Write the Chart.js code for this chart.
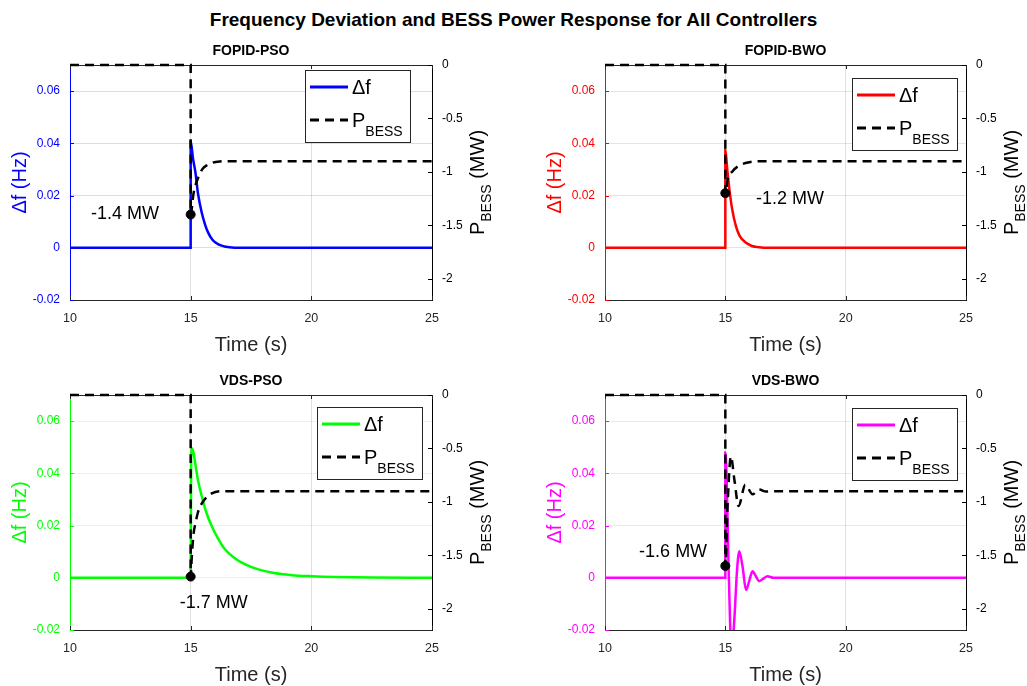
<!DOCTYPE html>
<html>
<head>
<meta charset="utf-8">
<script src="https://cdn.jsdelivr.net/npm/chart.js@4.4.1/dist/chart.umd.min.js"></script>
<style>
  html, body { margin: 0; padding: 0; background: #fff; overflow: hidden; }
  body { width: 1027px; height: 686px; position: relative; font-family: 'Liberation Sans', Arial, Helvetica, sans-serif; }
  #title { position: absolute; left: 0; top: 10px; width: 1027px; text-align: center; font-weight: bold; font-size: 19px; line-height: 19px; color: #000; }
  canvas { position: absolute; }
</style>
</head>
<body>
<div id="title">Frequency Deviation and BESS Power Response for All Controllers</div>
<canvas id="c1" width="513" height="340" style="left:0;top:30px"></canvas>
<canvas id="c2" width="492" height="340" style="left:535px;top:30px"></canvas>
<canvas id="c3" width="513" height="340" style="left:0;top:360px"></canvas>
<canvas id="c4" width="492" height="340" style="left:535px;top:360px"></canvas>
<script>
const FONT = "'Liberation Sans', Arial, Helvetica, sans-serif";

// axis ticks
const timeTicks = [10, 15, 20, 25];
const dfTicks   = [-0.02, 0, 0.02, 0.04, 0.06];
const pTicks    = [-2, -1.5, -1, -0.5, 0];

// FOPID-PSO
const fopidPsoT   = [10, 15, 15, 15.1, 15.2, 15.3, 15.46, 15.6, 15.73, 15.9, 16.15, 16.4, 16.7, 17, 25];
const fopidPsoDf  = [0, 0, 0.0408, 0.034, 0.0287, 0.021, 0.0134, 0.0088, 0.0057, 0.0031, 0.0013, 0.0005, 0.0001, 0, 0];
const fopidPsoPT  = [10, 15, 15, 15.12, 15.32, 15.5, 15.66, 15.9, 16.2, 16.6, 25];
const fopidPsoP   = [0, 0, -1.4, -1.2, -1.05, -0.97, -0.94, -0.915, -0.903, -0.9, -0.9];

// FOPID-BWO
const fopidBwoT   = [10, 15, 15, 15.08, 15.17, 15.28, 15.44, 15.6, 15.86, 16.1, 16.4, 16.8, 25];
const fopidBwoDf  = [0, 0, 0.0376, 0.03, 0.0223, 0.015, 0.0083, 0.0045, 0.0019, 0.0007, 0.0002, 0, 0];
const fopidBwoPT  = [10, 15, 15, 15.1, 15.3, 15.58, 16.0, 16.55, 25];
const fopidBwoP   = [0, 0, -1.2, -1.07, -0.994, -0.941, -0.91, -0.9, -0.9];

// VDS-PSO
const vdsPsoT     = [10, 15, 15.02, 15.06, 15.12, 15.2, 15.3, 15.46, 15.65, 15.875, 16.1, 16.43, 16.8, 17.26, 17.8, 18.4, 19.2, 20, 21, 22.5, 25];
const vdsPsoDf    = [0, 0, 0.046, 0.0495, 0.0478, 0.0432, 0.0375, 0.0312, 0.025, 0.0197, 0.0156, 0.0108, 0.0077, 0.0051, 0.0032, 0.0019, 0.001, 0.0006, 0.0003, 0.0001, 0];
const vdsPsoPT    = [10, 15, 15, 15.05, 15.12, 15.2, 15.3, 15.46, 15.65, 15.875, 16.3, 17, 25];
const vdsPsoP     = [0, 0, -1.7, -1.5, -1.3, -1.2, -1.1, -1.016, -0.96, -0.92, -0.9, -0.9, -0.9];

// VDS-BWO
const vdsBwoT     = [10, 15, 15, 15.05, 15.12, 15.2, 15.28, 15.38, 15.48, 15.58, 15.72, 15.86, 16.0, 16.13, 16.27, 16.4, 16.58, 16.75, 17.0, 17.3, 25];
const vdsBwoDf    = [0, 0, 0.048, 0.04, 0.01, -0.018, -0.026, -0.015, 0.002, 0.0102, 0.004, -0.0047, -0.001, 0.0025, 0.0006, -0.0013, -0.0003, 0.0006, 0, 0, 0];
const vdsBwoPT    = [10, 15, 15, 15.1, 15.23, 15.38, 15.55, 15.83, 16.13, 16.41, 16.69, 17, 25];
const vdsBwoP     = [0, 0, -1.6, -1.0, -0.575, -0.8, -1.04, -0.84, -0.93, -0.885, -0.904, -0.9, -0.9];

// layout per panel (note = label position in data units, legend = offset from plot right/top)
const panels = [
  { id: 'c1', name: 'FOPID-PSO', color: '#0000ff', grid: 'rgba(0,0,255,0.15)', t: fopidPsoT, df: fopidPsoDf, pt: fopidPsoPT, p: fopidPsoP, rightW: 81, note: [12.28, -1.395], legend: [127, 5] },
  { id: 'c2', name: 'FOPID-BWO', color: '#ff0000', grid: 'rgba(255,0,0,0.15)', t: fopidBwoT, df: fopidBwoDf, pt: fopidBwoPT, p: fopidBwoP, rightW: 61, note: [17.69, -1.255], legend: [114, 13] },
  { id: 'c3', name: 'VDS-PSO',   color: '#00ff00', grid: 'rgba(0,255,0,0.15)', t: vdsPsoT,   df: vdsPsoDf,   pt: vdsPsoPT,   p: vdsPsoP,   rightW: 81, note: [15.96, -1.95], legend: [115, 12] },
  { id: 'c4', name: 'VDS-BWO',   color: '#ff00ff', grid: 'rgba(255,0,255,0.15)', t: vdsBwoT, df: vdsBwoDf,   pt: vdsBwoPT,   p: vdsBwoP,   rightW: 61, note: [12.83, -1.467], legend: [114, 13] }
];

Chart.defaults.font.family = FONT;

function seg(ctx, x1, y1, x2, y2) {
  ctx.beginPath(); ctx.moveTo(x1, y1); ctx.lineTo(x2, y2); ctx.stroke();
}

// top box line + inward tick marks, matlab style
function drawFrame(chart, pn) {
  const ctx = chart.ctx, a = chart.chartArea, L = 4;
  const { x, yL, yR } = chart.scales;
  ctx.save();
  ctx.lineWidth = 1;
  ctx.strokeStyle = '#262626';
  seg(ctx, a.left, a.top + 0.5, a.right, a.top + 0.5);
  timeTicks.forEach(v => {
    const px = Math.round(x.getPixelForValue(v)) + 0.5;
    seg(ctx, px, a.bottom, px, a.bottom - L);
    seg(ctx, px, a.top, px, a.top + L);
  });
  ctx.strokeStyle = pn.color;
  dfTicks.forEach(v => {
    const py = Math.round(yL.getPixelForValue(v)) + 0.5;
    seg(ctx, a.left, py, a.left + L, py);
  });
  ctx.strokeStyle = '#000';
  pTicks.forEach(v => {
    const py = Math.round(yR.getPixelForValue(v)) + 0.5;
    seg(ctx, a.right - L, py, a.right, py);
  });
  ctx.restore();
}

function drawRightLabel(chart) {
  const ctx = chart.ctx, a = chart.chartArea;
  const big = `20px ${FONT}`, small = `14px ${FONT}`;
  ctx.save();
  ctx.font = big;
  const wP = ctx.measureText('P').width;
  const wMW = ctx.measureText(' (MW)').width;
  ctx.font = small;
  const wB = ctx.measureText('BESS').width;
  const total = wP + wB + wMW;
  ctx.translate(a.right + 52, (a.top + a.bottom) / 2);
  ctx.rotate(-Math.PI / 2);
  ctx.fillStyle = '#000';
  ctx.textAlign = 'left';
  ctx.textBaseline = 'alphabetic';
  let tx = -total / 2;
  ctx.font = big;   ctx.fillText('P', tx, 0); tx += wP;
  ctx.font = small; ctx.fillText('BESS', tx, 7); tx += wB;
  ctx.font = big;   ctx.fillText(' (MW)', tx, 0);
  ctx.restore();
}

function drawNote(chart, pn) {
  const ctx = chart.ctx;
  const minP = Math.min(...pn.p);
  ctx.save();
  ctx.font = `18px ${FONT}`;
  ctx.fillStyle = '#000';
  ctx.textAlign = 'center';
  ctx.textBaseline = 'middle';
  ctx.fillText(`${minP.toFixed(1)} MW`, chart.scales.x.getPixelForValue(pn.note[0]), chart.scales.yR.getPixelForValue(pn.note[1]));
  ctx.restore();
}

function drawLegend(chart, pn) {
  const ctx = chart.ctx, a = chart.chartArea;
  const bx = Math.round(a.right - pn.legend[0]), by = Math.round(a.top + pn.legend[1]);
  const bw = 105, bh = 72;
  ctx.save();
  ctx.fillStyle = '#fff';
  ctx.fillRect(bx, by, bw, bh);
  ctx.strokeStyle = '#262626';
  ctx.lineWidth = 1;
  ctx.strokeRect(bx + 0.5, by + 0.5, bw, bh);

  ctx.lineWidth = 3;
  ctx.strokeStyle = pn.color;
  seg(ctx, bx + 5, by + 17, bx + 43, by + 17);
  ctx.fillStyle = '#000';
  ctx.textAlign = 'left';
  ctx.textBaseline = 'alphabetic';
  ctx.font = `20px ${FONT}`;
  ctx.fillText('Δf', bx + 47, by + 24);

  ctx.strokeStyle = '#000';
  ctx.setLineDash([9, 6]);
  seg(ctx, bx + 5, by + 50, bx + 43, by + 50);
  ctx.setLineDash([]);
  ctx.fillText('P', bx + 47, by + 57);
  const wP = ctx.measureText('P').width;
  ctx.font = `14px ${FONT}`;
  ctx.fillText('BESS', bx + 47 + wP, by + 66);
  ctx.restore();
}

function buildChart(pn) {
  const minP = Math.min(...pn.p);
  const minIdx = pn.p.indexOf(minP);
  const dfData = pn.t.map((x, i) => ({ x, y: pn.df[i] }));
  const pData = pn.pt.map((x, i) => ({ x, y: pn.p[i] }));
  const dot = [{ x: pn.pt[minIdx], y: minP }];

  const decor = {
    id: 'decor',
    beforeDatasetsDraw(chart) { drawFrame(chart, pn); },
    afterDatasetsDraw(chart) { drawNote(chart, pn); },
    afterDraw(chart) { drawRightLabel(chart); drawLegend(chart, pn); }
  };

  return new Chart(document.getElementById(pn.id), {
    type: 'line',
    data: {
      datasets: [
        { label: 'Δf', data: dfData, yAxisID: 'yL', borderColor: pn.color, borderWidth: 2.5, pointRadius: 0, cubicInterpolationMode: 'monotone', fill: false, order: 2 },
        { label: 'P_BESS', data: pData, yAxisID: 'yR', borderColor: '#000', borderWidth: 2.5, borderDash: [9, 6], pointRadius: 0, cubicInterpolationMode: 'monotone', fill: false, order: 1, clip: { left: 0, right: 0, top: 3, bottom: 0 } },
        { label: 'min', data: dot, yAxisID: 'yR', showLine: false, pointRadius: 4.5, pointBackgroundColor: '#000', pointBorderColor: '#000', order: 0 }
      ]
    },
    options: {
      responsive: false,
      animation: false,
      events: [],
      layout: { autoPadding: false, padding: 0 },
      scales: {
        x: {
          type: 'linear', position: 'bottom', min: 10, max: 25,
          afterBuildTicks: s => { s.ticks = timeTicks.map(v => ({ value: v })); },
          afterFit: s => { s.height = 70; },
          grid: { color: 'rgba(38,38,38,0.15)', drawTicks: false },
          border: { color: '#262626', width: 1 },
          ticks: { color: '#262626', font: { size: 12.5 }, padding: 11, maxRotation: 0, callback: v => String(v) },
          title: { display: true, text: 'Time (s)', color: '#262626', font: { size: 20 }, padding: { top: 0, bottom: 13 } }
        },
        yL: {
          type: 'linear', position: 'left', min: -0.02, max: 0.07,
          afterBuildTicks: s => { s.ticks = dfTicks.map(v => ({ value: v })); },
          afterFit: s => { s.width = 70; },
          grid: { color: pn.grid, drawTicks: false },
          border: { color: pn.color, width: 1 },
          ticks: { color: pn.color, font: { size: 12 }, padding: 10, callback: v => String(v) },
          title: { display: true, text: 'Δf (Hz)', color: pn.color, font: { size: 20 }, padding: { top: 8, bottom: 0 } }
        },
        yR: {
          type: 'linear', position: 'right', min: -2.2, max: 0,
          afterBuildTicks: s => { s.ticks = pTicks.map(v => ({ value: v })); },
          afterFit: s => { s.width = pn.rightW; },
          grid: { display: false, drawTicks: false },
          border: { color: '#000', width: 1 },
          ticks: { color: '#000', font: { size: 12 }, padding: 10, callback: v => String(v) }
        }
      },
      plugins: {
        legend: { display: false },
        tooltip: { enabled: false },
        title: { display: true, text: pn.name, color: '#000', fullSize: false, font: { size: 14, weight: 'bold' }, padding: { top: 13, bottom: 5.2 } }
      }
    },
    plugins: [decor]
  });
}

panels.forEach(buildChart);
</script>
</body>
</html>
